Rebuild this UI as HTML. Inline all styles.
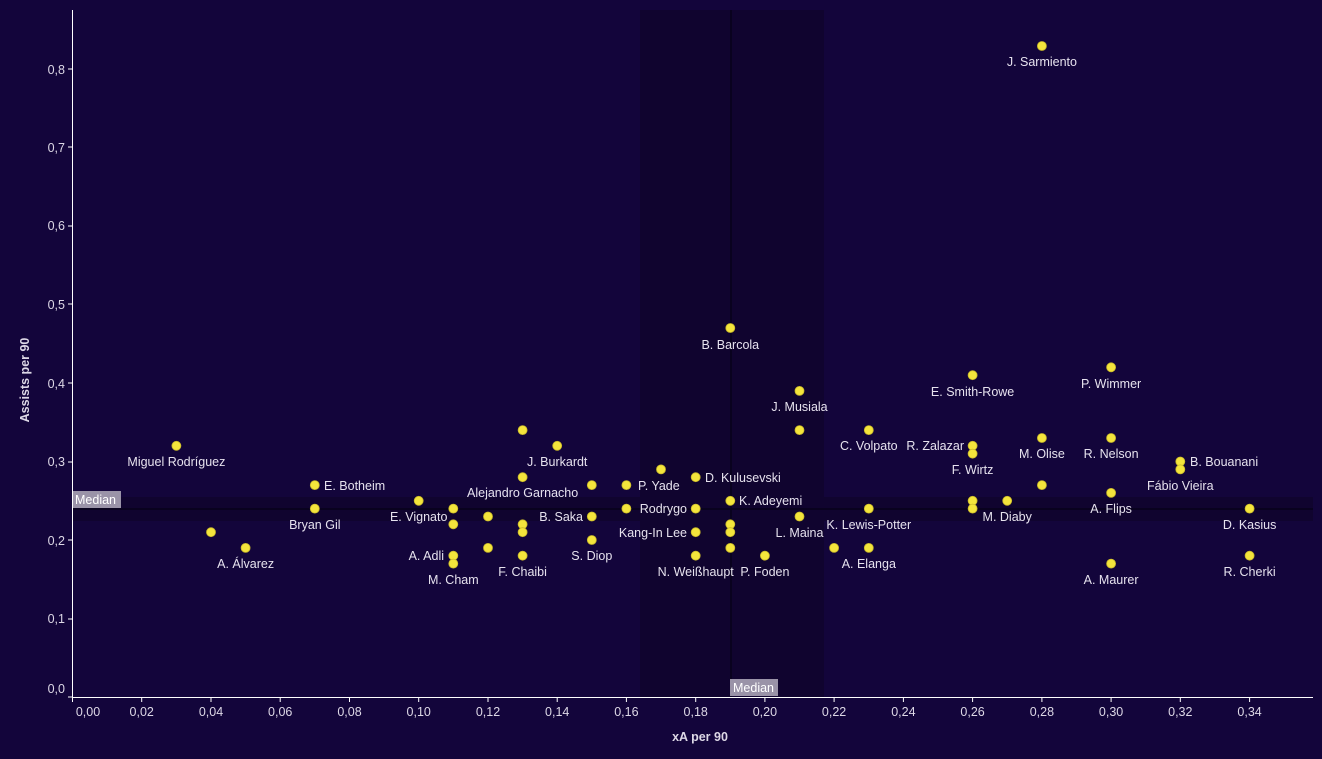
<!DOCTYPE html>
<html><head><meta charset="utf-8"><style>
html,body{margin:0;padding:0;background:#13053b;}
svg{display:block;font-family:"Liberation Sans","DejaVu Sans",sans-serif;}
.t{fill:#ddd8e6;font-size:12.5px;}
.lb{fill:#e6e2ee;font-size:12.5px;}
.d{fill:#f4e53c;stroke:#c9b92a;stroke-width:0.8;}
</style></head><body>
<svg width="1322" height="759" viewBox="0 0 1322 759">
<rect width="1322" height="759" fill="#13053b"/>
<rect x="640" y="10" width="184" height="687" fill="#10042f"/>
<rect x="73" y="497" width="1240" height="24" fill="#10042f"/>
<line x1="73" y1="509" x2="1313" y2="509" stroke="#07021a" stroke-width="1.5"/>
<line x1="731" y1="10" x2="731" y2="697" stroke="#07021a" stroke-width="1.5"/>
<line x1="72.5" y1="10" x2="72.5" y2="698" stroke="#fff" stroke-width="1"/>
<line x1="72" y1="697.5" x2="1313" y2="697.5" stroke="#fff" stroke-width="1"/>
<g stroke="#fff" stroke-width="1">
<line x1="68" y1="697" x2="72" y2="697"/><line x1="68" y1="619" x2="72" y2="619"/><line x1="68" y1="540" x2="72" y2="540"/><line x1="68" y1="462" x2="72" y2="462"/><line x1="68" y1="383" x2="72" y2="383"/><line x1="68" y1="304" x2="72" y2="304"/><line x1="68" y1="226" x2="72" y2="226"/><line x1="68" y1="147" x2="72" y2="147"/><line x1="68" y1="69" x2="72" y2="69"/>
<line x1="72.5" y1="698" x2="72.5" y2="702"/><line x1="141.7" y1="698" x2="141.7" y2="702"/><line x1="211" y1="698" x2="211" y2="702"/><line x1="280.2" y1="698" x2="280.2" y2="702"/><line x1="349.5" y1="698" x2="349.5" y2="702"/><line x1="418.7" y1="698" x2="418.7" y2="702"/><line x1="488" y1="698" x2="488" y2="702"/><line x1="557.2" y1="698" x2="557.2" y2="702"/><line x1="626.4" y1="698" x2="626.4" y2="702"/><line x1="695.7" y1="698" x2="695.7" y2="702"/><line x1="764.9" y1="698" x2="764.9" y2="702"/><line x1="834.1" y1="698" x2="834.1" y2="702"/><line x1="903.4" y1="698" x2="903.4" y2="702"/><line x1="972.6" y1="698" x2="972.6" y2="702"/><line x1="1041.9" y1="698" x2="1041.9" y2="702"/><line x1="1111.1" y1="698" x2="1111.1" y2="702"/><line x1="1180.3" y1="698" x2="1180.3" y2="702"/><line x1="1249.6" y1="698" x2="1249.6" y2="702"/>
</g>
<g class="t" text-anchor="end">
<text x="65" y="693">0,0</text><text x="65" y="623">0,1</text><text x="65" y="545">0,2</text><text x="65" y="466">0,3</text><text x="65" y="388">0,4</text><text x="65" y="309">0,5</text><text x="65" y="230">0,6</text><text x="65" y="152">0,7</text><text x="65" y="74">0,8</text>
</g>
<g class="t" text-anchor="middle">
<text x="88" y="716">0,00</text><text x="141.7" y="716">0,02</text><text x="211" y="716">0,04</text><text x="280.2" y="716">0,06</text><text x="349.5" y="716">0,08</text><text x="418.7" y="716">0,10</text><text x="488" y="716">0,12</text><text x="557.2" y="716">0,14</text><text x="626.4" y="716">0,16</text><text x="695.7" y="716">0,18</text><text x="764.9" y="716">0,20</text><text x="834.1" y="716">0,22</text><text x="903.4" y="716">0,24</text><text x="972.6" y="716">0,26</text><text x="1041.9" y="716">0,28</text><text x="1111.1" y="716">0,30</text><text x="1180.3" y="716">0,32</text><text x="1249.6" y="716">0,34</text>
</g>
<text x="700" y="741" class="t" text-anchor="middle" font-weight="bold" font-size="11">xA per 90</text>
<text transform="translate(29,380) rotate(-90)" class="t" text-anchor="middle" font-weight="bold" font-size="11">Assists per 90</text>
<rect x="73" y="491" width="48" height="17" fill="#9a93a8"/><text x="75" y="504" fill="#fff" font-size="12.5">Median</text>
<rect x="730" y="679" width="48" height="17" fill="#9a93a8"/><text x="733" y="692" fill="#fff" font-size="12.5">Median</text>
<g class="d">
<circle cx="1041.9" cy="46" r="4.5"/><circle cx="730.3" cy="328" r="4.5"/><circle cx="1111.1" cy="367.3" r="4.5"/><circle cx="972.6" cy="375.2" r="4.5"/><circle cx="799.5" cy="390.9" r="4.5"/><circle cx="799.5" cy="430.1" r="4.5"/><circle cx="868.8" cy="430.1" r="4.5"/><circle cx="972.6" cy="445.8" r="4.5"/><circle cx="972.6" cy="453.7" r="4.5"/><circle cx="1041.9" cy="438" r="4.5"/><circle cx="1111.1" cy="438" r="4.5"/><circle cx="1180.3" cy="461.5" r="4.5"/><circle cx="1180.3" cy="469.4" r="4.5"/><circle cx="1041.9" cy="485.1" r="4.5"/><circle cx="1111.1" cy="492.9" r="4.5"/><circle cx="972.6" cy="500.8" r="4.5"/><circle cx="972.6" cy="508.6" r="4.5"/><circle cx="1007.2" cy="500.8" r="4.5"/><circle cx="1249.6" cy="508.6" r="4.5"/><circle cx="1249.6" cy="555.7" r="4.5"/><circle cx="1111.1" cy="563.6" r="4.5"/><circle cx="868.8" cy="508.6" r="4.5"/><circle cx="799.5" cy="516.5" r="4.5"/><circle cx="834.1" cy="547.9" r="4.5"/><circle cx="868.8" cy="547.9" r="4.5"/><circle cx="764.9" cy="555.7" r="4.5"/><circle cx="695.7" cy="555.7" r="4.5"/><circle cx="730.3" cy="500.8" r="4.5"/><circle cx="730.3" cy="524.3" r="4.5"/><circle cx="730.3" cy="532.2" r="4.5"/><circle cx="730.3" cy="547.9" r="4.5"/><circle cx="695.7" cy="477.2" r="4.5"/><circle cx="695.7" cy="508.6" r="4.5"/><circle cx="695.7" cy="532.2" r="4.5"/><circle cx="626.4" cy="485.1" r="4.5"/><circle cx="661" cy="469.4" r="4.5"/><circle cx="626.4" cy="508.6" r="4.5"/><circle cx="591.8" cy="485.1" r="4.5"/><circle cx="591.8" cy="516.5" r="4.5"/><circle cx="591.8" cy="540" r="4.5"/><circle cx="557.2" cy="445.8" r="4.5"/><circle cx="522.6" cy="430.1" r="4.5"/><circle cx="522.6" cy="477.2" r="4.5"/><circle cx="522.6" cy="524.3" r="4.5"/><circle cx="522.6" cy="532.2" r="4.5"/><circle cx="522.6" cy="555.7" r="4.5"/><circle cx="488" cy="516.5" r="4.5"/><circle cx="488" cy="547.9" r="4.5"/><circle cx="418.7" cy="500.8" r="4.5"/><circle cx="453.3" cy="508.6" r="4.5"/><circle cx="453.3" cy="524.3" r="4.5"/><circle cx="453.3" cy="555.7" r="4.5"/><circle cx="453.3" cy="563.6" r="4.5"/><circle cx="314.8" cy="485.1" r="4.5"/><circle cx="314.8" cy="508.6" r="4.5"/><circle cx="176.4" cy="445.8" r="4.5"/><circle cx="211" cy="532.2" r="4.5"/><circle cx="245.6" cy="547.9" r="4.5"/>
</g>
<g class="lb" text-anchor="middle">
<text x="1041.9" y="66">J. Sarmiento</text><text x="730.3" y="349">B. Barcola</text><text x="1111.1" y="388">P. Wimmer</text><text x="972.6" y="396">E. Smith-Rowe</text><text x="799.5" y="411">J. Musiala</text><text x="868.8" y="450">C. Volpato</text><text x="972.6" y="474">F. Wirtz</text><text x="1041.9" y="458">M. Olise</text><text x="1111.1" y="458">R. Nelson</text><text x="1180.3" y="490">Fábio Vieira</text><text x="1111.1" y="513">A. Flips</text><text x="1007.2" y="521">M. Diaby</text><text x="1249.6" y="529">D. Kasius</text><text x="1249.6" y="576">R. Cherki</text><text x="1111.1" y="584">A. Maurer</text><text x="868.8" y="529">K. Lewis-Potter</text><text x="799.5" y="537">L. Maina</text><text x="868.8" y="568">A. Elanga</text><text x="764.9" y="576">P. Foden</text><text x="695.7" y="576">N. Weißhaupt</text><text x="591.8" y="560">S. Diop</text><text x="557.2" y="466">J. Burkardt</text><text x="522.6" y="497">Alejandro Garnacho</text><text x="522.6" y="576">F. Chaibi</text><text x="418.7" y="521">E. Vignato</text><text x="453.3" y="584">M. Cham</text><text x="314.8" y="529">Bryan Gil</text><text x="176.4" y="466">Miguel Rodríguez</text><text x="245.6" y="568">A. Álvarez</text>
</g>
<g class="lb" text-anchor="start">
<text x="1190" y="466">B. Bouanani</text><text x="739" y="505">K. Adeyemi</text><text x="705" y="482">D. Kulusevski</text><text x="638" y="490">P. Yade</text><text x="324" y="490">E. Botheim</text>
</g>
<g class="lb" text-anchor="end">
<text x="964" y="450">R. Zalazar</text><text x="687" y="513">Rodrygo</text><text x="687" y="537">Kang-In Lee</text><text x="583" y="521">B. Saka</text><text x="444" y="560">A. Adli</text>
</g>
</svg>
</body></html>
